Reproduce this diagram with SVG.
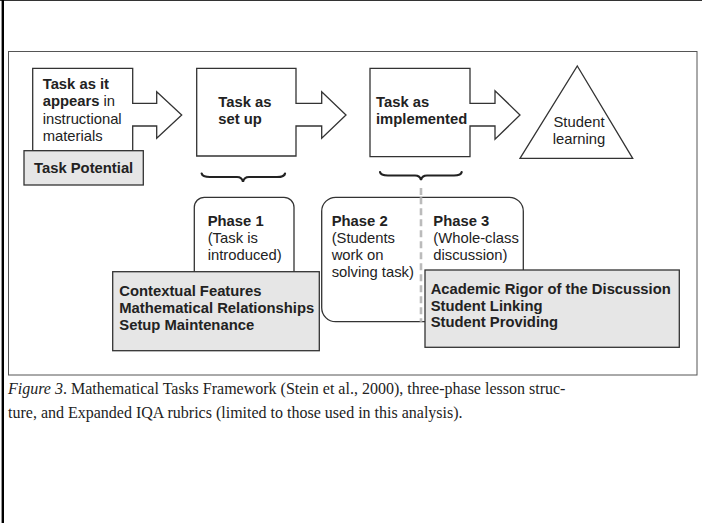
<svg xmlns="http://www.w3.org/2000/svg" width="702" height="523" viewBox="0 0 702 523">
<style>
.sh{fill:#fff;stroke:#333;stroke-width:1.3}
.gr{fill:#e6e6e6;stroke:#333;stroke-width:1.3}
.t{font-family:"Liberation Sans",Arial,sans-serif;font-size:14.8px;fill:#222}
.b{font-weight:bold}
.br{fill:none;stroke:#222;stroke-width:2.2;stroke-linecap:round}
.cap{font-family:"Liberation Serif","Times New Roman",serif;font-size:16px;fill:#222}
</style>
<rect width="702" height="523" fill="#fff"/>
<line x1="0" y1="0.5" x2="702" y2="0.5" stroke="#333" stroke-width="1"/>
<line x1="2.8" y1="0" x2="2.8" y2="523" stroke="#000" stroke-width="2.4"/>
<rect x="8.5" y="51.5" width="688.5" height="323.5" fill="none" stroke="#555" stroke-width="1"/>

<g id="connectors">
<path class="br" d="M201.7,173.5 Q202.5,177 210,177 L237,177 Q242,177 243,181.7 Q244,177 249,177 L277,177 Q284.5,177 285,173.5"/>
<path class="br" d="M380,172 Q380.8,175.5 388,175.5 L415,175.5 Q420,175.5 421,180 Q422,175.5 427,175.5 L454,175.5 Q461,175.5 461.7,172"/>
<line x1="421" y1="188" x2="421" y2="320" stroke="#bbb" stroke-width="2.6" stroke-dasharray="7,4"/>
</g>

<g id="task-materials">
<path class="sh" d="M32.7,150.7 L32.7,68.3 L132.7,68.3 L132.7,103.3 L156.7,103.3 L156.7,91.7 L181.7,115 L156.7,138.3 L156.7,126 L132.7,126 L132.7,150.7 Z"/>
<text class="t" x="42.7" y="88.7"><tspan class="b">Task as it</tspan></text>
<text class="t" x="42.7" y="106"><tspan class="b">appears</tspan> in</text>
<text class="t" x="42.7" y="123.5">instructional</text>
<text class="t" x="42.7" y="141">materials</text>
</g>
<g id="task-potential">
<rect class="gr" x="24" y="150.7" width="119.3" height="34.3"/>
<text class="t b" x="34" y="172.7">Task Potential</text>
</g>
<g id="task-setup">
<path class="sh" d="M196.7,68.3 H296 V103.3 H321.7 V91.7 L346,115 L321.7,138.3 V126 H296 V156 H196.7 Z"/>
<text class="t b" x="218.3" y="107">Task as</text>
<text class="t b" x="218.3" y="124">set up</text>
</g>
<g id="task-implemented">
<path class="sh" d="M370,68.3 H470 V103.3 H495 V90.7 L520,115 L495,139.3 V126 H470 V156.7 H370 Z"/>
<text class="t b" x="376" y="107">Task as</text>
<text class="t b" x="376" y="124">implemented</text>
</g>
<g id="student-learning">
<path class="sh" d="M577.3,66 L632.7,158.3 L520,158.3 Z"/>
<text class="t" x="579" y="127" text-anchor="middle">Student</text>
<text class="t" x="579" y="143.5" text-anchor="middle">learning</text>
</g>
<g id="phase1">
<rect class="sh" x="194.3" y="197.3" width="99.7" height="90" rx="10"/>
<text class="t b" x="207.7" y="226">Phase 1</text>
<text class="t" x="207.7" y="243">(Task is</text>
<text class="t" x="207.7" y="260">introduced)</text>
</g>
<g id="rubric1">
<rect class="gr" x="112.7" y="271.7" width="206.6" height="79"/>
<text class="t b" x="119.3" y="296">Contextual Features</text>
<text class="t b" x="119.3" y="313">Mathematical Relationships</text>
<text class="t b" x="119.3" y="330">Setup Maintenance</text>
</g>
<g id="phase23">
<rect class="sh" x="321.7" y="197.3" width="201.6" height="124.4" rx="14"/>
<line x1="421" y1="197.3" x2="421" y2="321.7" stroke="#bbb" stroke-width="2.6" stroke-dasharray="7,4"/>
<text class="t b" x="331.7" y="226">Phase 2</text>
<text class="t" x="331.7" y="243">(Students</text>
<text class="t" x="331.7" y="260">work on</text>
<text class="t" x="331.7" y="277">solving task)</text>
<text class="t b" x="433.3" y="226">Phase 3</text>
<text class="t" x="433.3" y="243">(Whole-class</text>
<text class="t" x="433.3" y="260">discussion)</text>
</g>
<g id="rubric2">
<rect class="gr" x="425" y="270" width="254.3" height="77.3"/>
<text class="t b" x="430.7" y="294">Academic Rigor of the Discussion</text>
<text class="t b" x="430.7" y="310.7">Student Linking</text>
<text class="t b" x="430.7" y="327.3">Student Providing</text>
</g>
<g id="caption">
<text class="cap" x="8" y="393.5"><tspan font-style="italic">Figure 3</tspan>. Mathematical Tasks Framework (Stein et al., 2000), three-phase lesson struc-</text>
<text class="cap" x="8" y="418">ture, and Expanded IQA rubrics (limited to those used in this analysis).</text>
</g>
</svg>
